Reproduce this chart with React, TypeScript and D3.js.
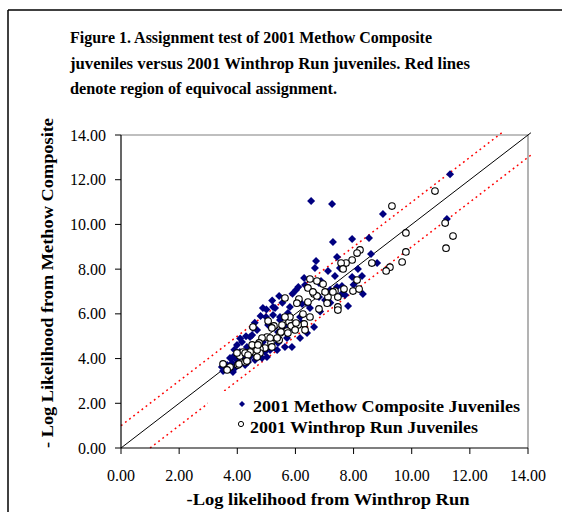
import React from "react";
import * as d3 from "d3";

// ---- Data ----
const methowX = [6.54, 7.26, 9.01, 11.32, 11.21, 7.29, 7.95, 8.53, 6.71, 6.67, 7.43, 8.60, 8.81, 8.15, 8.29, 7.12, 7.95, 7.36, 6.81, 8.32, 7.81, 5.44, 6.81, 6.40, 6.64, 6.23, 5.81, 5.23, 5.74, 5.47, 5.23, 5.06, 5.68, 5.40, 6.16, 6.50, 4.54, 4.44, 4.16, 3.99, 5.13, 4.88, 4.33, 4.09, 3.85, 4.68, 5.30, 4.88, 5.47, 4.99, 4.51, 3.75, 3.82, 3.65, 3.47, 3.85, 6.40, 6.16, 5.71, 5.88, 5.64, 5.37, 5.13, 5.02, 4.85, 4.61, 4.37, 4.27, 3.51, 3.99, 4.20, 3.92, 4.68, 6.88, 7.43, 7.60, 7.19, 7.71, 7.02, 6.02, 6.33, 7.53, 4.30, 4.60, 4.80, 5.00, 5.20, 5.55, 5.90, 6.10, 6.30, 4.10, 3.90, 4.45, 4.95, 5.40, 5.95, 6.20, 6.85, 7.20, 7.60, 8.00];
const methowY = [11.05, 10.91, 10.47, 12.25, 10.24, 9.21, 9.35, 9.39, 8.36, 8.05, 8.54, 8.68, 8.27, 8.01, 7.69, 7.92, 7.65, 7.69, 7.38, 6.89, 6.35, 6.80, 6.75, 6.48, 5.41, 6.44, 6.31, 6.31, 6.04, 5.86, 5.95, 5.50, 5.37, 5.19, 5.86, 6.26, 5.37, 4.96, 4.74, 4.61, 4.92, 4.74, 4.52, 4.29, 4.07, 4.52, 6.26, 6.26, 5.72, 5.86, 5.05, 4.02, 3.80, 3.71, 3.62, 3.40, 5.14, 4.92, 4.92, 4.52, 4.52, 4.38, 4.38, 4.07, 4.02, 3.94, 3.85, 3.71, 3.44, 3.94, 4.07, 3.58, 5.28, 7.47, 7.20, 7.25, 7.07, 6.84, 6.62, 7.07, 7.29, 8.05, 5.00, 5.60, 5.90, 6.20, 6.60, 6.50, 6.90, 7.20, 7.60, 4.90, 4.40, 4.10, 4.30, 4.70, 5.30, 5.60, 6.10, 6.50, 6.90, 7.30];

const winthropX = [9.32, 10.80, 9.80, 11.15, 11.42, 11.18, 9.80, 9.67, 9.25, 9.12, 8.63, 8.22, 8.12, 7.95, 7.74, 7.57, 7.64, 8.12, 6.50, 6.74, 6.95, 7.98, 8.19, 7.67, 6.43, 6.64, 6.74, 7.36, 7.12, 7.09, 7.46, 7.46, 6.81, 6.12, 5.64, 6.05, 6.26, 6.50, 6.30, 6.09, 5.78, 5.85, 5.71, 5.54, 5.47, 5.74, 5.26, 5.44, 5.06, 5.19, 5.02, 4.85, 4.54, 4.75, 5.16, 5.19, 4.95, 4.78, 4.51, 4.54, 4.37, 4.20, 4.09, 3.99, 4.78, 6.02, 6.33, 5.99, 5.50, 5.37, 5.13, 4.68, 4.44, 4.27, 4.02, 3.75, 3.51, 3.65, 6.43, 5.81, 5.64, 4.06, 4.27, 4.37, 4.68, 4.71, 4.33, 6.60, 7.29, 7.02, 7.46];
const winthropY = [10.82, 11.49, 9.62, 10.06, 9.48, 8.94, 8.77, 8.32, 8.09, 7.92, 8.27, 8.86, 8.72, 8.41, 8.27, 8.27, 8.01, 7.51, 7.56, 7.47, 7.33, 7.02, 7.11, 7.11, 7.16, 6.89, 6.80, 7.02, 6.75, 6.48, 6.31, 6.17, 6.22, 6.66, 6.71, 6.48, 5.99, 5.86, 5.55, 5.50, 5.64, 5.46, 5.23, 5.50, 5.14, 5.14, 5.46, 4.83, 5.68, 5.37, 4.96, 4.92, 5.41, 4.70, 4.70, 4.52, 4.47, 4.43, 4.61, 4.29, 4.25, 4.29, 4.11, 4.25, 4.25, 5.59, 5.28, 5.28, 5.19, 4.92, 4.92, 4.38, 4.29, 4.25, 3.71, 3.62, 3.76, 3.49, 6.53, 5.86, 5.86, 3.76, 3.85, 4.16, 4.07, 4.61, 3.89, 6.98, 6.98, 6.98, 6.75];

// reference lines: y = x (black), y = x + 1 and y = x - 1 (red)
const diagX = [0, 14.1];
const diagY = [0, 14.1];
const upperX = [0, 13.1];
const upperY = [1, 14.1];
const lowerX = [1, 14.1];
const lowerY = [0, 13.1];

const tickValues = [0, 2, 4, 6, 8, 10, 12, 14];

const titleLines = [
  "Figure 1.  Assignment test of 2001 Methow Composite",
  "juveniles versus 2001 Winthrop Run juveniles. Red lines",
  "denote region of equivocal assignment.",
];
const titleWidths = [362, 400, 267];
const legendLabels = ["2001 Methow Composite Juveniles", "2001 Winthrop Run Juveniles"];

const FONT = "'Liberation Serif', 'Times New Roman', 'DejaVu Serif', serif";

export default function App() {
  const W = 562, H = 512;
  const x = d3.scaleLinear().domain([0, 14]).range([121, 528]);
  const y = d3.scaleLinear().domain([0, 14]).range([448, 135]);
  const line = d3.line<[number, number]>().x(d => x(d[0])).y(d => y(d[1]));
  const pts = (xs: number[], ys: number[]) => xs.map((v, i) => [v, ys[i]] as [number, number]);
  const diamond = (r: number) => `M0,${-r}L${r},0L0,${r}L${-r},0Z`;
  const ts: React.CSSProperties = { fontFamily: FONT };

  return (
    <svg width={W} height={H} style={{ position: "absolute", left: 0, top: 0, fontFamily: FONT }}>
      <rect x={0} y={0} width={W} height={H} fill="#fff" />
      {/* outer frame */}
      <line x1={8} y1={10} x2={W} y2={10} stroke="#000" strokeWidth={1.5} />
      <line x1={8} y1={10} x2={8} y2={H} stroke="#000" strokeWidth={1.5} />

      {/* title */}
      {titleLines.map((t, i) => (
        <text key={i} x={70} y={43 + i * 25.5} style={ts} fontSize={16} fontWeight="bold" textLength={titleWidths[i]} lengthAdjust="spacingAndGlyphs">{t}</text>
      ))}

      {/* plot area border (gray) */}
      <line x1={x(0)} y1={y(14)} x2={x(14)} y2={y(14)} stroke="#808080" strokeWidth={1.2} />
      <line x1={x(14)} y1={y(14)} x2={x(14)} y2={y(0)} stroke="#808080" strokeWidth={1.2} />

      {/* reference lines */}
      <path d={line(pts(diagX, diagY)) || ""} fill="none" stroke="#000" strokeWidth={1} />
      <path d={line(pts(upperX, upperY)) || ""} fill="none" stroke="#ff0000" strokeWidth={1.5} strokeDasharray="1.8,3.4" />
      <path d={line(pts(lowerX, lowerY)) || ""} fill="none" stroke="#ff0000" strokeWidth={1.5} strokeDasharray="1.8,3.4" />

      {/* legend background */}
      <rect x={208} y={391} width={318} height={50} fill="#fff" />

      {/* points */}
      {methowX.map((v, i) => (
        <path key={"m" + i} d={diamond(4)} transform={`translate(${x(v)},${y(methowY[i])})`} fill="#000080" />
      ))}
      {winthropX.map((v, i) => (
        <circle key={"w" + i} cx={x(v)} cy={y(winthropY[i])} r={3.3} fill="#fff" stroke="#000" strokeWidth={1.1} />
      ))}

      {/* axes */}
      <line x1={x(0)} y1={y(0)} x2={x(14)} y2={y(0)} stroke="#000" strokeWidth={1.2} />
      <line x1={x(0)} y1={y(0)} x2={x(0)} y2={y(14)} stroke="#000" strokeWidth={1.2} />
      {tickValues.map(t => (
        <g key={"xt" + t}>
          <line x1={x(t)} y1={y(0)} x2={x(t)} y2={y(0) + 6} stroke="#000" strokeWidth={1} />
          <text x={x(t)} y={481} style={ts} fontSize={16} textAnchor="middle">{t.toFixed(2)}</text>
        </g>
      ))}
      {tickValues.map(t => (
        <g key={"yt" + t}>
          <line x1={x(0) - 6} y1={y(t)} x2={x(0)} y2={y(t)} stroke="#000" strokeWidth={1} />
          <text x={106} y={y(t) + 5.5} style={ts} fontSize={16} textAnchor="end">{t.toFixed(2)}</text>
        </g>
      ))}

      {/* axis titles */}
      <text x={328} y={505} style={ts} fontSize={17} fontWeight="bold" textAnchor="middle" textLength={283} lengthAdjust="spacingAndGlyphs">-Log likelihood from Winthrop Run</text>
      <text transform={`translate(53,283) rotate(-90)`} style={ts} fontSize={17} fontWeight="bold" textAnchor="middle" textLength={330} lengthAdjust="spacingAndGlyphs">- Log Likelihood from Methow Composite</text>

      {/* legend */}
      <path d={diamond(3)} transform="translate(242,404)" fill="#000080" />
      <text x={253} y={412} style={ts} fontSize={17} fontWeight="bold" textLength={267} lengthAdjust="spacingAndGlyphs">{legendLabels[0]}</text>
      <circle cx={241} cy={424} r={2.6} fill="#fff" stroke="#000" strokeWidth={1} />
      <text x={250} y={433} style={ts} fontSize={17} fontWeight="bold" textLength={228} lengthAdjust="spacingAndGlyphs">{legendLabels[1]}</text>
    </svg>
  );
}
